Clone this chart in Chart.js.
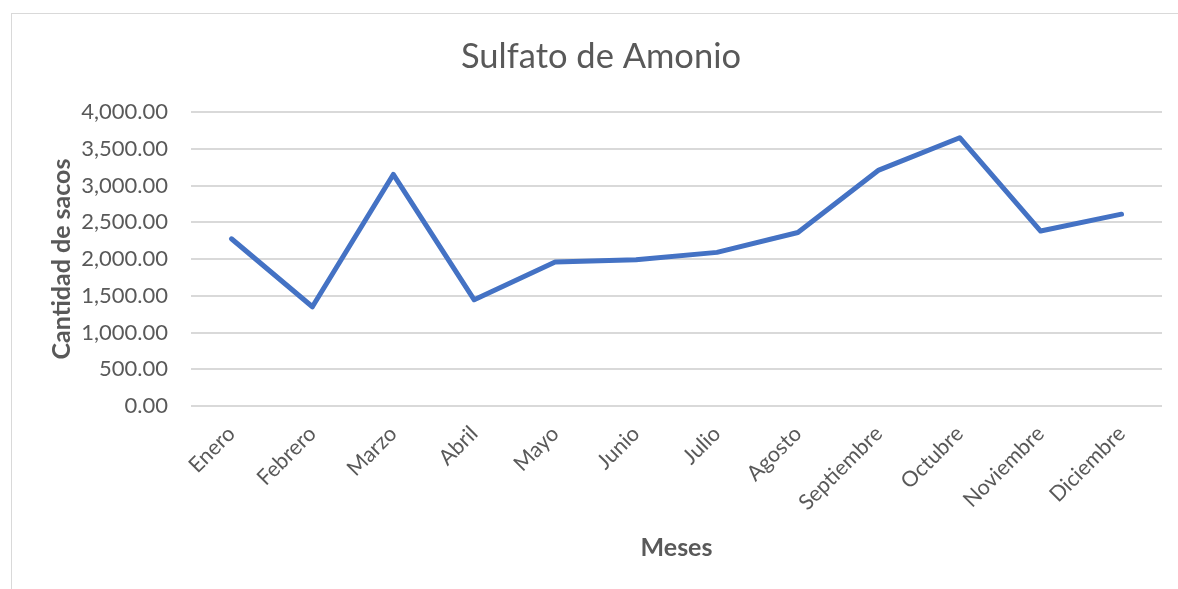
<!DOCTYPE html>
<html>
<head>
<meta charset="utf-8">
<script src="https://cdn.jsdelivr.net/npm/chart.js@4.4.1/dist/chart.umd.min.js"></script>
<style>
  html, body { margin: 0; padding: 0; background: #fff; overflow: hidden; }
  #frame {
    position: absolute; left: 11px; top: 13px;
    width: 1300px; height: 700px;
    border: 1px solid #d9d9d9;
  }
  #wrap { position: absolute; left: 0; top: 0; width: 1178px; height: 589px; }
</style>
</head>
<body>
<div id="frame"></div>
<div id="wrap"><canvas id="chart"></canvas></div>
<script>
// categorías y valores
const meses = ["Enero", "Febrero", "Marzo", "Abril", "Mayo", "Junio", "Julio",
  "Agosto", "Septiembre", "Octubre", "Noviembre", "Diciembre"];
const sacos = [2275, 1350, 3150, 1445, 1960, 1990, 2090, 2360, 3210, 3650, 2380, 2610];
const yTicks = [0, 500, 1000, 1500, 2000, 2500, 3000, 3500, 4000];

const gris = "#595959";

const ctx = document.getElementById("chart").getContext("2d");
new Chart(ctx, {
  type: "line",
  data: {
    labels: meses,
    datasets: [
      {
        label: "Sulfato de Amonio",
        data: sacos,
        borderColor: "#4472C4",
        backgroundColor: "#4472C4",
        borderWidth: 5,
        pointRadius: 0,
        tension: 0,
        borderCapStyle: "round",
        borderJoinStyle: "round"
      }
    ]
  },
  options: {
    responsive: true,
    maintainAspectRatio: false,
    animation: false,
    layout: { padding: { left: 40, right: 16, top: 0, bottom: 0 } },
    plugins: {
      legend: { display: false },
      tooltip: { enabled: false },
      title: {
        display: true,
        text: "Sulfato de Amonio",
        color: gris,
        font: { family: "Lato", size: 34.5, weight: "normal", lineHeight: 1.2 },
        padding: { top: 36.5, bottom: 34.1 }
      }
    },
    scales: {
      x: {
        offset: true,
        grid: { display: false, drawTicks: false },
        border: { display: false },
        ticks: {
          color: gris,
          font: { family: "Lato", size: 21.5 },
          minRotation: 45,
          maxRotation: 45,
          padding: 15
        },
        title: {
          display: true,
          text: "Meses",
          color: gris,
          font: { family: "Lato", size: 25, weight: "bold", lineHeight: 1.2 },
          padding: { top: 4, bottom: 26 }
        },
        afterFit: scale => { scale.height = 183; }
      },
      y: {
        min: 0,
        max: 4000,
        afterBuildTicks: scale => { scale.ticks = yTicks.map(v => ({ value: v })); },
        grid: { color: "#d9d9d9", lineWidth: 2, drawTicks: false },
        border: { display: false },
        ticks: {
          color: gris,
          font: { family: "Lato", size: 22 },
          padding: 23,
          callback: v => Number(v).toLocaleString("en-US", { minimumFractionDigits: 2, maximumFractionDigits: 2 })
        },
        title: {
          display: true,
          text: "Cantidad de sacos",
          color: gris,
          font: { family: "Lato", size: 25, weight: "bold", lineHeight: 1.2 },
          padding: { top: 7, bottom: 4 }
        },
        afterFit: scale => { scale.width = 151; }
      }
    }
  }
});
</script>
</body>
</html>
